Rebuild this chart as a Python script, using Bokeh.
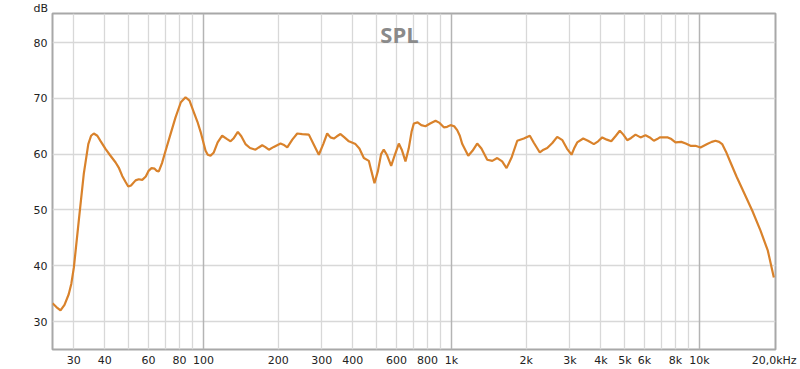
from bokeh.plotting import figure
from bokeh.models import FixedTicker, Grid, Label, Range1d
from bokeh.embed import file_html
from bokeh.resources import INLINE

# Frequency response (Hz, dB)
freq = [24.6, 25.5, 26.5, 27.5, 28.6, 29.3, 30.0, 31.4, 32.9, 34.3, 35.2, 36.1,
        37.3, 38.5, 40.3, 42.0, 44.2, 45.5, 47.0, 48.5, 49.7, 51.0, 53.2, 54.8,
        56.6, 58.5, 60.0, 61.7, 63.5, 64.8, 66.0, 68.0, 70.3, 73.5, 77.1, 81.0,
        84.6, 87.8, 91.4, 94.5, 97.3, 101.9, 104.0, 106.7, 110, 114, 118.9,
        124.5, 128.5, 132, 137.5, 142, 147.6, 154, 162, 167, 172.4, 177, 183.4,
        192, 204.4, 210, 217.6, 228, 238.7, 250, 265.9, 278.5, 291.7, 303.9,
        315.2, 325, 335.3, 345, 356.7, 370, 385.5, 410, 425, 443, 464, 475, 489,
        505, 520, 533, 550, 571, 590, 613, 630, 652, 672, 690, 704.7, 730, 755,
        785, 820, 862, 895, 931, 960, 991, 1025, 1054, 1080, 1105, 1168, 1215,
        1269, 1320, 1393, 1460, 1529, 1600, 1667, 1750, 1841, 1957, 2069, 2150,
        2270, 2350, 2432, 2550, 2668, 2800, 2920, 3047, 3120, 3212, 3396, 3550,
        3749, 3900, 4053, 4230, 4406, 4600, 4770, 4930, 5111, 5300, 5521, 5781,
        6058, 6300, 6544, 6750, 6918, 7451, 7700, 8002, 8440, 8800, 9197, 9630,
        10093, 10740, 11200, 11600, 12000, 12340, 12800, 13340, 14100, 14860,
        16310, 17620, 18860, 19940]
spl = [33.3, 32.6, 32.0, 33.0, 34.9, 36.8, 39.7, 48.1, 56.5, 61.8, 63.3, 63.7,
       63.3, 62.3, 60.9, 59.8, 58.5, 57.6, 56.1, 55.0, 54.2, 54.4, 55.3, 55.5,
       55.4, 56.0, 57.0, 57.5, 57.4, 57.0, 56.9, 58.4, 60.6, 63.5, 66.6, 69.3,
       70.2, 69.6, 67.5, 65.8, 64.0, 60.6, 59.9, 59.7, 60.3, 62.1, 63.3,
       62.7, 62.3, 62.8, 64.0, 63.2, 61.8, 61.1, 60.8, 61.2, 61.6, 61.3, 60.8,
       61.3, 61.9, 61.7, 61.2, 62.6, 63.7, 63.6, 63.5, 61.7, 59.9, 61.8,
       63.7, 63.0, 62.8, 63.2, 63.6, 63.0, 62.3, 61.8, 61.0, 59.3, 58.8, 57.0, 54.8,
       57.0, 60.0, 60.8, 59.8, 57.9, 59.8, 61.9, 60.8, 58.7, 61.0, 64.0, 65.5, 65.7, 65.2,
       65.0, 65.5, 66.0, 65.6, 64.8, 64.9, 65.2, 65.0, 64.3, 63.3, 61.8, 59.7, 60.6,
       61.9, 61.0, 59.0, 58.8, 59.3, 58.7, 57.5, 59.5, 62.4, 62.8, 63.3, 62.0,
       60.3, 60.8, 61.1, 62.0, 63.1, 62.5, 61.0, 59.9, 61.0, 62.1, 62.8, 62.4,
       61.8, 62.3, 63.0, 62.6, 62.3, 63.3, 64.2, 63.5, 62.5, 62.9, 63.5, 63.0,
       63.4, 63.0, 62.4, 62.7, 63.0, 63.0, 62.7, 62.1, 62.2, 61.9, 61.5, 61.5,
       61.2, 61.8, 62.2, 62.4, 62.2, 61.8, 60.4, 58.5, 56.0, 53.8,
       49.9, 46.3, 42.7, 37.9]

x_ticks = [30, 40, 60, 80, 100, 200, 300, 400, 600, 800, 1000, 2000, 3000,
           4000, 5000, 6000, 8000, 10000, 20000]
x_tick_labels = ["30", "40", "60", "80", "100", "200", "300", "400", "600",
                 "800", "1k", "2k", "3k", "4k", "5k", "6k", "8k", "10k", "20,0kHz"]
y_ticks = [30, 40, 50, 60, 70, 80]
grid_minor = [30, 40, 50, 60, 70, 80, 90, 200, 300, 400, 500, 600, 700, 800, 900,
              2000, 3000, 4000, 5000, 6000, 7000, 8000, 9000]
grid_decades = [100, 1000, 10000]

FONT = "DejaVu Sans"

p = figure(width=800, height=369, x_axis_type="log",
           x_range=Range1d(24.6, 20250), y_range=Range1d(25.0, 85.2),
           output_backend="svg", toolbar_location=None,
           min_border_left=52, min_border_right=25, min_border_top=0,
           min_border_bottom=20)
p.background_fill_color = "white"
p.border_fill_color = "white"
p.outline_line_color = "#a8a8a8"
p.outline_line_width = 2

p.title.text = "dB"
p.title.align = "left"
p.title.offset = -19
p.title.standoff = -2
p.title.text_font = FONT
p.title.text_font_size = "11px"
p.title.text_font_style = "normal"
p.title.text_color = "#222222"

p.xgrid.visible = False
p.ygrid.grid_line_color = "#d8d8d8"
p.ygrid.grid_line_width = 1.3
p.ygrid.ticker = FixedTicker(ticks=y_ticks)

g1 = Grid(dimension=0, ticker=FixedTicker(ticks=grid_minor),
          grid_line_color="#d8d8d8", grid_line_width=1.3)
g2 = Grid(dimension=0, ticker=FixedTicker(ticks=grid_decades),
          grid_line_color="#b4b4b4", grid_line_width=1.5)
p.add_layout(g1)
p.add_layout(g2)

p.xaxis.ticker = FixedTicker(ticks=x_ticks)
p.xaxis.major_label_overrides = {t: l for t, l in zip(x_ticks, x_tick_labels)}
p.yaxis.ticker = FixedTicker(ticks=y_ticks)
for ax in (p.xaxis, p.yaxis):
    ax.axis_line_color = None
    ax.major_tick_line_color = None
    ax.minor_tick_line_color = None
    ax.major_tick_out = 0
    ax.major_tick_in = 0
    ax.major_label_text_font = FONT
    ax.major_label_text_font_size = "11px"
    ax.major_label_text_color = "#222222"
p.xaxis.major_label_standoff = 4
p.yaxis.major_label_standoff = 5

p.line(freq, spl, line_color="#d9822b", line_width=2.2)

p.add_layout(Label(x=617, y=81.6, text="SPL", text_font="Open Sans",
                   text_font_size="22px", text_font_style="bold",
                   text_color="#8a8a8a", text_baseline="alphabetic",
                   text_align="center"))

open("out.html", "w").write(file_html(p, INLINE))
